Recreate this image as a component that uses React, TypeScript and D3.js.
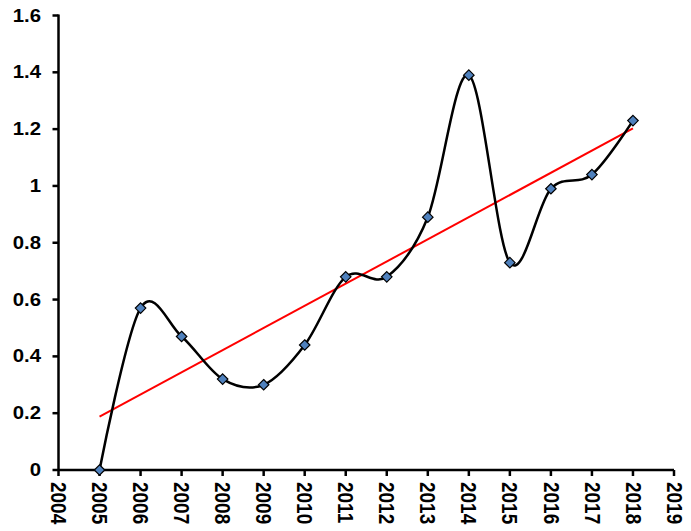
import { useEffect, useRef } from "react";
import * as d3 from "d3";

// values
const years = [2005, 2006, 2007, 2008, 2009, 2010, 2011, 2012, 2013, 2014, 2015, 2016, 2017, 2018];
const values = [0, 0.57, 0.47, 0.32, 0.3, 0.44, 0.68, 0.68, 0.89, 1.39, 0.73, 0.99, 1.04, 1.23];
const xTicks = d3.range(2004, 2020);
const yTicks = [0, 0.2, 0.4, 0.6, 0.8, 1, 1.2, 1.4, 1.6];

const W = 691;
const H = 531;

export default function App() {
  const svgRef = useRef<SVGSVGElement>(null);

  useEffect(() => {
    const svg = d3.select(svgRef.current!);
    svg.selectAll("*").remove();

    const x = d3.scaleLinear().domain([2004, 2019]).range([58.5, 674]);
    const y = d3.scaleLinear().domain([0, 1.6]).range([470, 15.5]);
    const font = "Arial, 'Liberation Sans', sans-serif";

    // y axis
    svg.append("line")
      .attr("x1", x(2004)).attr("x2", x(2004))
      .attr("y1", y(1.6) - 1).attr("y2", y(0))
      .attr("stroke", "#000").attr("stroke-width", 2.5);
    for (const t of yTicks) {
      svg.append("line")
        .attr("x1", x(2004) - 6).attr("x2", x(2004))
        .attr("y1", y(t)).attr("y2", y(t))
        .attr("stroke", "#000").attr("stroke-width", 2.5);
      svg.append("text")
        .attr("transform", `translate(41,${y(t)}) scale(1.13,1)`)
        .attr("text-anchor", "end")
        .attr("dominant-baseline", "central")
        .attr("font-family", font).attr("font-weight", "bold").attr("font-size", 18)
        .text(String(t));
    }

    // x axis
    svg.append("line")
      .attr("x1", x(2004)).attr("x2", x(2019))
      .attr("y1", y(0)).attr("y2", y(0))
      .attr("stroke", "#000").attr("stroke-width", 2.5);
    for (const t of xTicks) {
      svg.append("line")
        .attr("x1", x(t)).attr("x2", x(t))
        .attr("y1", y(0)).attr("y2", y(0) + 6)
        .attr("stroke", "#000").attr("stroke-width", 2.5);
      svg.append("text")
        .attr("transform", `translate(${x(t)},${y(0) + 12}) scale(1.12,1) rotate(90)`)
        .attr("text-anchor", "start")
        .attr("dominant-baseline", "central")
        .attr("font-family", font).attr("font-weight", "bold").attr("font-size", 19)
        .text(String(t));
    }

    // linear trendline (least squares over the series)
    const idx = years.map((_, i) => i);
    const mx = d3.mean(idx)!;
    const my = d3.mean(values)!;
    const slope =
      d3.sum(idx, (i) => (i - mx) * (values[i] - my)) / d3.sum(idx, (i) => (i - mx) ** 2);
    const icpt = my - slope * mx;
    svg.append("line")
      .attr("x1", x(years[0])).attr("y1", y(icpt))
      .attr("x2", x(years[years.length - 1]))
      .attr("y2", y(icpt + slope * (years.length - 1)))
      .attr("stroke", "#ff0000").attr("stroke-width", 2);

    // smoothed series line
    const pts = years.map((yr, i) => [x(yr), y(values[i])] as [number, number]);
    svg.append("path")
      .attr("d", d3.line().curve(d3.curveCatmullRom.alpha(0))(pts))
      .attr("fill", "none").attr("stroke", "#000").attr("stroke-width", 2.5);

    // diamond markers
    const diamond = d3.symbol(d3.symbolDiamond2, 70)();
    svg.selectAll(".pt")
      .data(pts)
      .join("path")
      .attr("class", "pt")
      .attr("d", diamond)
      .attr("transform", (d) => `translate(${d[0]},${d[1]})`)
      .attr("fill", "#4f81bd")
      .attr("stroke", "#000")
      .attr("stroke-width", 1.2);
  }, []);

  return (
    <div style={{ position: "fixed", left: 0, top: 0, width: W, height: H, background: "#fff" }}>
      <svg ref={svgRef} width={W} height={H} />
    </div>
  );
}
